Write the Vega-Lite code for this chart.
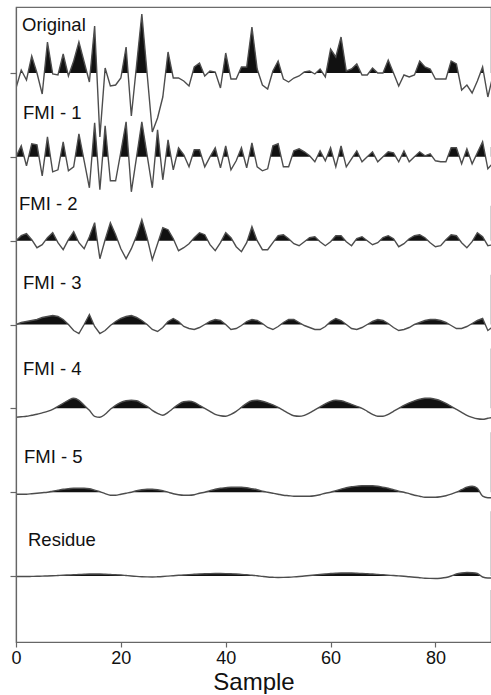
{
  "$schema": "https://vega.github.io/schema/vega-lite/v6.json",
  "width": 475,
  "height": 635,
  "padding": {"left": 9, "top": 7, "right": 1, "bottom": 0},
  "background": "white",
  "config": {
    "font": "Liberation Sans",
    "view": {"stroke": "#6b6b6b", "strokeWidth": 1.2},
    "axis": {"grid": false}
  },
  "data": {"values": [
    {"x":0,"o":-15,"f1":0,"f2":0,"f3":0,"f4":-9,"f5":-2,"r":-0.5},
    {"x":1,"o":3,"f1":11,"f2":5,"f3":2,"f4":-8.5,"f5":-2,"r":-0.5},
    {"x":2,"o":-7,"f1":-9,"f2":7,"f3":3,"f4":-8,"f5":-2,"r":-0.5},
    {"x":3,"o":17,"f1":13,"f2":1,"f3":4,"f4":-7,"f5":-1.5,"r":-0.4},
    {"x":4,"o":0,"f1":12,"f2":-7,"f3":5,"f4":-6,"f5":-1,"r":-0.3},
    {"x":5,"o":-21,"f1":-19,"f2":-4,"f3":7,"f4":-4.5,"f5":-0.5,"r":-0.1},
    {"x":6,"o":31,"f1":20,"f2":3,"f3":8,"f4":-3,"f5":0,"r":0},
    {"x":7,"o":-1,"f1":-15,"f2":8,"f3":9,"f4":-1,"f5":1,"r":0.2},
    {"x":8,"o":-2,"f1":-13,"f2":-2,"f3":8,"f4":2,"f5":2,"r":0.5},
    {"x":9,"o":19,"f1":15,"f2":-9,"f3":5,"f4":5,"f5":3,"r":0.8},
    {"x":10,"o":-3,"f1":-14,"f2":1,"f3":0,"f4":8,"f5":3.5,"r":1},
    {"x":11,"o":12,"f1":-10,"f2":9,"f3":-6,"f4":10,"f5":4,"r":1.3},
    {"x":12,"o":31,"f1":23,"f2":-2,"f3":-9,"f4":8,"f5":4,"r":1.5},
    {"x":13,"o":11,"f1":-4,"f2":-8,"f3":0,"f4":3,"f5":4,"r":1.8},
    {"x":14,"o":-9,"f1":-31,"f2":4,"f3":10,"f4":-2,"f5":3.5,"r":2},
    {"x":15,"o":47,"f1":34,"f2":18,"f3":-2,"f4":-8,"f5":2,"r":2},
    {"x":16,"o":-64,"f1":-33,"f2":-18,"f3":-9,"f4":-9,"f5":0.5,"r":2},
    {"x":17,"o":5,"f1":31,"f2":1,"f3":-6,"f4":-6,"f5":-1.5,"r":1.8},
    {"x":18,"o":-13,"f1":-24,"f2":18,"f3":-1,"f4":-1,"f5":-3,"r":1.5},
    {"x":19,"o":-12,"f1":-24,"f2":6,"f3":3,"f4":3,"f5":-3,"r":1.2},
    {"x":20,"o":-5,"f1":5,"f2":-8,"f3":6,"f4":6,"f5":-2,"r":1},
    {"x":21,"o":26,"f1":35,"f2":-18,"f3":8,"f4":7.5,"f5":-1,"r":0.5},
    {"x":22,"o":-43,"f1":-35,"f2":-8,"f3":9,"f4":8,"f5":0,"r":0},
    {"x":23,"o":8,"f1":0,"f2":5,"f3":7,"f4":7.5,"f5":1.5,"r":-0.4},
    {"x":24,"o":59,"f1":35,"f2":21,"f3":4,"f4":5,"f5":2.5,"r":-0.7},
    {"x":25,"o":0,"f1":2,"f2":3,"f3":0,"f4":2,"f5":3,"r":-0.9},
    {"x":26,"o":-59,"f1":-31,"f2":-19,"f3":-5,"f4":-2,"f5":3,"r":-1},
    {"x":27,"o":-45,"f1":27,"f2":-3,"f3":-7,"f4":-5,"f5":2.5,"r":-0.8},
    {"x":28,"o":-24,"f1":-23,"f2":13,"f3":-3,"f4":-7,"f5":1.5,"r":-0.5},
    {"x":29,"o":21,"f1":17,"f2":11,"f3":3,"f4":-4,"f5":0,"r":-0.1},
    {"x":30,"o":-5,"f1":-13,"f2":2,"f3":6,"f4":0,"f5":-1.5,"r":0.3},
    {"x":31,"o":-5,"f1":9,"f2":-10,"f3":3,"f4":4,"f5":-2.5,"r":0.7},
    {"x":32,"o":-8,"f1":2,"f2":-7,"f3":-2,"f4":6.5,"f5":-3,"r":1},
    {"x":33,"o":-13,"f1":-10,"f2":-3,"f3":-4,"f4":7,"f5":-3,"r":1.4},
    {"x":34,"o":6,"f1":7,"f2":3,"f3":-5,"f4":6,"f5":-2.5,"r":1.7},
    {"x":35,"o":10,"f1":7,"f2":8,"f3":-3,"f4":3,"f5":-1,"r":2},
    {"x":36,"o":-3,"f1":-10,"f2":6,"f3":0,"f4":0,"f5":0,"r":2.2},
    {"x":37,"o":2,"f1":0,"f2":-4,"f3":3,"f4":-3,"f5":1.5,"r":2.4},
    {"x":38,"o":1,"f1":9,"f2":-10,"f3":5,"f4":-6,"f5":3,"r":2.5},
    {"x":39,"o":-15,"f1":-11,"f2":-2,"f3":4,"f4":-7.5,"f5":4,"r":2.5},
    {"x":40,"o":20,"f1":11,"f2":8,"f3":0,"f4":-8,"f5":4.5,"r":2.4},
    {"x":41,"o":-6,"f1":-13,"f2":3,"f3":-5,"f4":-6,"f5":5,"r":2.2},
    {"x":42,"o":-6,"f1":-4,"f2":-6,"f3":-4,"f4":-3,"f5":5,"r":2},
    {"x":43,"o":6,"f1":9,"f2":-11,"f3":-1,"f4":1,"f5":5,"r":1.6},
    {"x":44,"o":6,"f1":-11,"f2":-2,"f3":3,"f4":5,"f5":4.5,"r":1.2},
    {"x":45,"o":46,"f1":14,"f2":14,"f3":5,"f4":7.5,"f5":3.5,"r":0.8},
    {"x":46,"o":4,"f1":-10,"f2":0,"f3":4,"f4":8,"f5":2.5,"r":0.3},
    {"x":47,"o":-12,"f1":-14,"f2":-9,"f3":1,"f4":7,"f5":1,"r":-0.4},
    {"x":48,"o":-16,"f1":-12,"f2":-9,"f3":-3,"f4":5.5,"f5":0,"r":-1},
    {"x":49,"o":2,"f1":11,"f2":-2,"f3":-5,"f4":3.5,"f5":-1,"r":-1.3},
    {"x":50,"o":12,"f1":13,"f2":5,"f3":-2,"f4":1,"f5":-2,"r":-1.5},
    {"x":51,"o":-6,"f1":-10,"f2":6,"f3":2,"f4":-2,"f5":-3,"r":-1.4},
    {"x":52,"o":-9,"f1":-10,"f2":2,"f3":5,"f4":-5,"f5":-3.5,"r":-1.2},
    {"x":53,"o":-5,"f1":6,"f2":-3,"f3":5,"f4":-7.5,"f5":-4,"r":-0.9},
    {"x":54,"o":-3,"f1":8,"f2":-5,"f3":2,"f4":-8,"f5":-4,"r":-0.5},
    {"x":55,"o":1,"f1":5,"f2":-1,"f3":-1,"f4":-7,"f5":-4,"r":0},
    {"x":56,"o":2,"f1":1,"f2":3,"f3":-3,"f4":-4.5,"f5":-4,"r":0.5},
    {"x":57,"o":-1,"f1":-5,"f2":4,"f3":-5,"f4":-1.5,"f5":-3.5,"r":1},
    {"x":58,"o":4,"f1":6,"f2":-1,"f3":-5,"f4":1.5,"f5":-2.5,"r":1.5},
    {"x":59,"o":-4,"f1":-4,"f2":-5,"f3":-2,"f4":4.5,"f5":-1,"r":2},
    {"x":60,"o":24,"f1":9,"f2":-1,"f3":3,"f4":7,"f5":0,"r":2.5},
    {"x":61,"o":16,"f1":-10,"f2":5,"f3":6,"f4":8,"f5":1.5,"r":2.8},
    {"x":62,"o":36,"f1":11,"f2":5,"f3":4,"f4":7.5,"f5":3,"r":3},
    {"x":63,"o":2,"f1":-10,"f2":-1,"f3":0,"f4":6,"f5":4.5,"r":3},
    {"x":64,"o":4,"f1":-2,"f2":-5,"f3":-4,"f4":4,"f5":5.5,"r":3},
    {"x":65,"o":9,"f1":6,"f2":2,"f3":-5,"f4":2,"f5":6,"r":2.8},
    {"x":66,"o":-2,"f1":-5,"f2":4,"f3":-3,"f4":0,"f5":6.5,"r":2.5},
    {"x":67,"o":-2,"f1":0,"f2":0,"f3":0,"f4":-3,"f5":6.5,"r":2.3},
    {"x":68,"o":5,"f1":5,"f2":-4,"f3":3,"f4":-6,"f5":6.5,"r":2},
    {"x":69,"o":0,"f1":-5,"f2":-2,"f3":5,"f4":-8,"f5":6,"r":1.6},
    {"x":70,"o":0,"f1":0,"f2":3,"f3":4,"f4":-8,"f5":5,"r":1.2},
    {"x":71,"o":13,"f1":5,"f2":5,"f3":1,"f4":-6,"f5":4,"r":0.8},
    {"x":72,"o":0,"f1":4,"f2":2,"f3":-3,"f4":-3,"f5":2.5,"r":0.5},
    {"x":73,"o":-13,"f1":-5,"f2":-6,"f3":-6,"f4":0,"f5":1,"r":0.1},
    {"x":74,"o":-2,"f1":6,"f2":-3,"f3":-5,"f4":3,"f5":0,"r":-0.3},
    {"x":75,"o":-4,"f1":-5,"f2":2,"f3":-3,"f4":5.5,"f5":-1.5,"r":-0.8},
    {"x":76,"o":-2,"f1":0,"f2":5,"f3":0,"f4":7.5,"f5":-3,"r":-1.2},
    {"x":77,"o":12,"f1":5,"f2":6,"f3":2,"f4":9,"f5":-4,"r":-1.7},
    {"x":78,"o":6,"f1":1,"f2":3,"f3":4,"f4":10,"f5":-5,"r":-2.2},
    {"x":79,"o":4,"f1":3,"f2":-2,"f3":5,"f4":10,"f5":-5,"r":-2.4},
    {"x":80,"o":-6,"f1":-4,"f2":-6,"f3":5,"f4":9,"f5":-5,"r":-2.5},
    {"x":81,"o":-6,"f1":-5,"f2":-5,"f3":4,"f4":7.5,"f5":-4.5,"r":-2.2},
    {"x":82,"o":-6,"f1":-5,"f2":1,"f3":2,"f4":5,"f5":-3.5,"r":-1.5},
    {"x":83,"o":12,"f1":9,"f2":6,"f3":-1,"f4":2,"f5":-2,"r":0},
    {"x":84,"o":9,"f1":9,"f2":5,"f3":-4,"f4":-1,"f5":0,"r":2},
    {"x":85,"o":-17,"f1":-7,"f2":-2,"f3":-4,"f4":-4,"f5":2.5,"r":3},
    {"x":86,"o":-12,"f1":8,"f2":-7,"f3":-2,"f4":-7,"f5":5,"r":3.5},
    {"x":87,"o":-20,"f1":-7,"f2":-1,"f3":1,"f4":-9,"f5":6,"r":3.3},
    {"x":88,"o":-8,"f1":4,"f2":8,"f3":4,"f4":-10.5,"f5":4,"r":2.5},
    {"x":89,"o":6,"f1":15,"f2":4,"f3":6,"f4":-11,"f5":-4,"r":-1},
    {"x":90,"o":-24,"f1":-12,"f2":-5,"f3":-6,"f4":-10,"f5":-5.5,"r":-2},
    {"x":91,"o":-2,"f1":-6,"f2":-4,"f3":-2,"f4":-9,"f5":-5.5,"r":-2}
  ]},
  "encoding": {
    "x": {
      "field": "x", "type": "quantitative",
      "scale": {"domain": [0, 90.6], "nice": false, "zero": false},
      "axis": {
        "values": [0, 20, 40, 60, 80], "title": "Sample", "titleFontSize": 24, "titleFontWeight": "normal",
        "titleColor": "#111", "titlePadding": 3, "labelFontSize": 18, "labelColor": "#111", "labelPadding": 2,
        "tickSize": 5, "tickColor": "#666", "domainColor": "#666", "domainWidth": 1.2, "tickWidth": 1.2,
        "labelFlush": false, "zindex": 1
      }
    }
  },
  "layer": [
    {"layer": [
      {"mark": {"type": "area", "color": "#111", "opacity": 1, "clip": true},
       "encoding": {"y": {"field": "o", "type": "quantitative", "scale": {"domain": [-569, 66], "nice": false, "zero": false}, "axis": null}, "y2": {"datum": -70}}},
      {"mark": {"type": "area", "color": "white", "opacity": 1, "clip": true},
       "encoding": {"y": {"datum": 0, "axis": null}, "y2": {"datum": -74}}},
      {"mark": {"type": "line", "color": "#4d4d4d", "strokeWidth": 1.4, "clip": true},
       "encoding": {"y": {"field": "o", "type": "quantitative", "axis": null}}},
      {"transform": [{"filter": "datum.x == 0"}],
       "mark": {"type": "text", "text": "Original", "align": "left", "baseline": "alphabetic", "dx": 6, "dy": -42, "fontSize": 18.5, "fill": "#111"},
       "encoding": {"y": {"datum": 0, "axis": null}}}
    ]},
    {"layer": [
      {"mark": {"type": "area", "color": "#111", "opacity": 1, "clip": true},
       "encoding": {"y": {"field": "f1", "type": "quantitative", "scale": {"domain": [-485.2, 149.8], "nice": false, "zero": false}, "axis": null}, "y2": {"datum": -45}}},
      {"mark": {"type": "area", "color": "white", "opacity": 1, "clip": true},
       "encoding": {"y": {"datum": 0, "axis": null}, "y2": {"datum": -49}}},
      {"mark": {"type": "line", "color": "#4d4d4d", "strokeWidth": 1.4, "clip": true},
       "encoding": {"y": {"field": "f1", "type": "quantitative", "axis": null}}},
      {"transform": [{"filter": "datum.x == 0"}],
       "mark": {"type": "text", "text": "FMI - 1", "align": "left", "baseline": "alphabetic", "dx": 7, "dy": -38, "fontSize": 18.5, "fill": "#111"},
       "encoding": {"y": {"datum": 0, "axis": null}}}
    ]},
    {"layer": [
      {"mark": {"type": "area", "color": "#111", "opacity": 1, "clip": true},
       "encoding": {"y": {"field": "f2", "type": "quantitative", "scale": {"domain": [-401.3, 233.7], "nice": false, "zero": false}, "axis": null}, "y2": {"datum": -30}}},
      {"mark": {"type": "area", "color": "white", "opacity": 1, "clip": true},
       "encoding": {"y": {"datum": 0, "axis": null}, "y2": {"datum": -34}}},
      {"mark": {"type": "line", "color": "#4d4d4d", "strokeWidth": 1.4, "clip": true},
       "encoding": {"y": {"field": "f2", "type": "quantitative", "axis": null}}},
      {"transform": [{"filter": "datum.x == 0"}],
       "mark": {"type": "text", "text": "FMI - 2", "align": "left", "baseline": "alphabetic", "dx": 3, "dy": -31, "fontSize": 18.5, "fill": "#111"},
       "encoding": {"y": {"datum": 0, "axis": null}}}
    ]},
    {"layer": [
      {"mark": {"type": "area", "color": "#111", "opacity": 1, "clip": true},
       "encoding": {"y": {"field": "f3", "type": "quantitative", "scale": {"domain": [-317.5, 317.5], "nice": false, "zero": false}, "axis": null}, "y2": {"datum": -20}}},
      {"mark": {"type": "area", "color": "white", "opacity": 1, "clip": true},
       "encoding": {"y": {"datum": 0, "axis": null}, "y2": {"datum": -24}}},
      {"mark": {"type": "line", "color": "#4d4d4d", "strokeWidth": 1.4, "clip": true},
       "encoding": {"y": {"field": "f3", "type": "quantitative", "axis": null}}},
      {"transform": [{"filter": "datum.x == 0"}],
       "mark": {"type": "text", "text": "FMI - 3", "align": "left", "baseline": "alphabetic", "dx": 7, "dy": -36, "fontSize": 18.5, "fill": "#111"},
       "encoding": {"y": {"datum": 0, "axis": null}}}
    ]},
    {"layer": [
      {"mark": {"type": "area", "color": "#111", "opacity": 1, "clip": true, "interpolate": "monotone"},
       "encoding": {"y": {"field": "f4", "type": "quantitative", "scale": {"domain": [-233.7, 401.3], "nice": false, "zero": false}, "axis": null}, "y2": {"datum": -20}}},
      {"mark": {"type": "area", "color": "white", "opacity": 1, "clip": true},
       "encoding": {"y": {"datum": 0, "axis": null}, "y2": {"datum": -24}}},
      {"mark": {"type": "line", "color": "#4d4d4d", "strokeWidth": 1.4, "clip": true, "interpolate": "monotone"},
       "encoding": {"y": {"field": "f4", "type": "quantitative", "axis": null}}},
      {"transform": [{"filter": "datum.x == 0"}],
       "mark": {"type": "text", "text": "FMI - 4", "align": "left", "baseline": "alphabetic", "dx": 7, "dy": -33, "fontSize": 18.5, "fill": "#111"},
       "encoding": {"y": {"datum": 0, "axis": null}}}
    ]},
    {"layer": [
      {"mark": {"type": "area", "color": "#111", "opacity": 1, "clip": true, "interpolate": "monotone"},
       "encoding": {"y": {"field": "f5", "type": "quantitative", "scale": {"domain": [-149.8, 485.2], "nice": false, "zero": false}, "axis": null}, "y2": {"datum": -15}}},
      {"mark": {"type": "area", "color": "white", "opacity": 1, "clip": true},
       "encoding": {"y": {"datum": 0, "axis": null}, "y2": {"datum": -19}}},
      {"mark": {"type": "line", "color": "#4d4d4d", "strokeWidth": 1.4, "clip": true, "interpolate": "monotone"},
       "encoding": {"y": {"field": "f5", "type": "quantitative", "axis": null}}},
      {"transform": [{"filter": "datum.x == 0"}],
       "mark": {"type": "text", "text": "FMI - 5", "align": "left", "baseline": "alphabetic", "dx": 8, "dy": -29, "fontSize": 18.5, "fill": "#111"},
       "encoding": {"y": {"datum": 0, "axis": null}}}
    ]},
    {"layer": [
      {"mark": {"type": "area", "color": "#111", "opacity": 1, "clip": true, "interpolate": "monotone"},
       "encoding": {"y": {"field": "r", "type": "quantitative", "scale": {"domain": [-66, 569], "nice": false, "zero": false}, "axis": null}, "y2": {"datum": -10}}},
      {"mark": {"type": "area", "color": "white", "opacity": 1, "clip": true},
       "encoding": {"y": {"datum": 0, "axis": null}, "y2": {"datum": -14}}},
      {"mark": {"type": "line", "color": "#4d4d4d", "strokeWidth": 1.4, "clip": true, "interpolate": "monotone"},
       "encoding": {"y": {"field": "r", "type": "quantitative", "axis": null}}},
      {"transform": [{"filter": "datum.x == 0"}],
       "mark": {"type": "text", "text": "Residue", "align": "left", "baseline": "alphabetic", "dx": 12, "dy": -30, "fontSize": 18.5, "fill": "#111"},
       "encoding": {"y": {"datum": 0, "axis": null}}}
    ]},
    {
      "data": {"values": [
        {"label": "Original"},
        {"label": "FMI - 1"},
        {"label": "FMI - 2"},
        {"label": "FMI - 3"},
        {"label": "FMI - 4"},
        {"label": "FMI - 5"},
        {"label": "Residue"}
      ]},
      "mark": {"type": "text", "opacity": 0},
      "encoding": {
        "x": {"datum": 0, "type": "quantitative"},
        "y": {"field": "label", "type": "nominal", "sort": null, "scale": {"type": "point", "domain": ["Original", "FMI - 1", "FMI - 2", "FMI - 3", "FMI - 4", "FMI - 5", "Residue"], "padding": 0.787}, "axis": {"orient": "left", "labels": false, "ticks": true, "tickSize": 6, "title": null, "domainColor": "#666", "tickColor": "#666", "domainWidth": 1.2, "tickWidth": 1.2, "zindex": 1}},
        "text": {"field": "label", "type": "nominal"}
      }
    }
  ],
  "resolve": {"scale": {"y": "independent"}, "axis": {"y": "independent"}}
}
